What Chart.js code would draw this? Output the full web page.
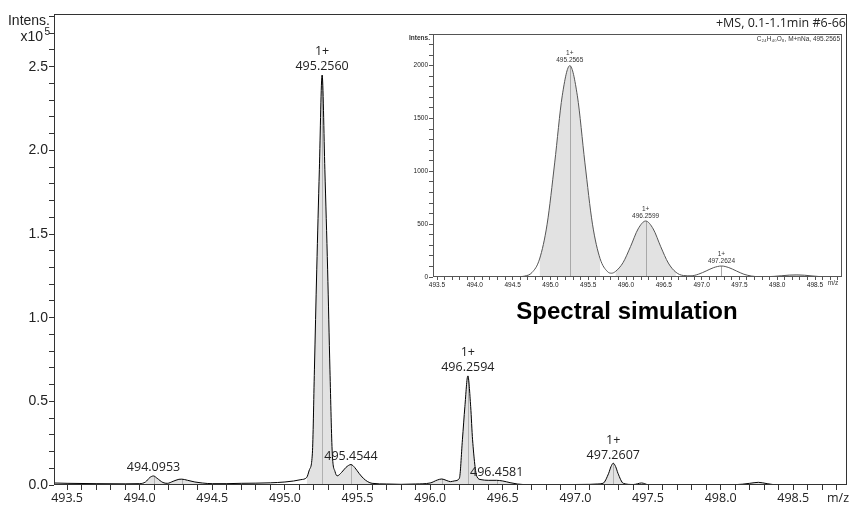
<!DOCTYPE html>
<html>
<head>
<meta charset="utf-8">
<script src="https://cdn.jsdelivr.net/npm/chart.js@4.4.1/dist/chart.umd.min.js"></script>
<style>
    html, body { margin: 0; padding: 0; background: #fff; }
    #wrap { position: relative; width: 850px; height: 505px; overflow: hidden; }
    #main { position: absolute; left: 0; top: 0; }
    #inset { position: absolute; left: 390px; top: 28px; }
    #sim { position: absolute; left: 500px; top: 297px; width: 254px; text-align: center;
           font: bold 24px "Liberation Sans", Arial, sans-serif; color: #000; }
</style>
</head>
<body>
<div id="wrap">
    <canvas id="main" width="850" height="505"></canvas>
    <canvas id="inset" width="457" height="272"></canvas>
    <div id="sim">Spectral simulation</div>
</div>
<script>
// Measured spectrum: m/z and intensity (x10^5)
const mainMz = [
    493.41, 493.50, 493.70, 493.90, 494.00, 494.04, 494.07, 494.095, 494.12, 494.16,
    494.19, 494.23, 494.27, 494.29, 494.33, 494.38, 494.43, 494.50, 494.60, 494.70,
    494.80, 494.90, 495.00, 495.06, 495.11, 495.15, 495.168, 495.189, 495.203, 495.219,
    495.237, 495.256, 495.275, 495.294, 495.310, 495.326, 495.345, 495.360, 495.390, 495.420,
    495.455, 495.480, 495.510, 495.540, 495.570, 495.600, 495.70, 495.80, 495.90, 496.00,
    496.05, 496.08, 496.11, 496.14, 496.17, 496.201, 496.222, 496.239, 496.2594, 496.279,
    496.292, 496.322, 496.35, 496.40, 496.458, 496.50, 496.55, 496.60, 496.65, 496.70,
    496.80, 496.90, 497.00, 497.10, 497.15, 497.19, 497.229, 497.245, 497.2607, 497.277,
    497.293, 497.33, 497.40, 497.456, 497.50, 497.60, 497.80, 498.00, 498.10, 498.20,
    498.26, 498.32, 498.40, 498.60, 498.87
];
const mainIntens = [
    0.012, 0.010, 0.008, 0.007, 0.008, 0.018, 0.045, 0.054, 0.040, 0.015,
    0.010, 0.022, 0.034, 0.035, 0.028, 0.018, 0.012, 0.008, 0.008, 0.010,
    0.011, 0.013, 0.018, 0.024, 0.032, 0.045, 0.090, 0.190, 0.688, 1.286,
    1.884, 2.450, 1.884, 1.286, 0.688, 0.190, 0.080, 0.055, 0.075, 0.105,
    0.122, 0.105, 0.070, 0.040, 0.020, 0.010, 0.006, 0.004, 0.006, 0.012,
    0.030, 0.036, 0.028, 0.020, 0.025, 0.040, 0.270, 0.468, 0.652, 0.468,
    0.270, 0.050, 0.032, 0.028, 0.028, 0.024, 0.014, 0.006, 0.002, 0.000,
    0.003, 0.000, 0.003, 0.004, 0.006, 0.010, 0.070, 0.110, 0.130, 0.110,
    0.070, 0.010, 0.003, 0.012, 0.002, 0.000, 0.000, 0.003, 0.002, 0.010,
    0.016, 0.008, 0.000, 0.000, 0.000
];
const mainShade = [[494.03, 494.44], [495.15, 495.61], [495.99, 496.62], [497.18, 497.35], [498.19, 498.33]];
const mainStickMz = [494.0953, 494.29, 495.256, 495.455, 496.08, 496.2594, 496.458, 497.2607];
const mainStickVal = [0.054, 0.035, 2.45, 0.122, 0.036, 0.652, 0.028, 0.13];
const mainLabelMz = [494.0953, 495.256, 495.4544, 496.2594, 496.4581, 497.2607];
const mainLabelTop = [0.054, 2.45, 0.122, 0.652, 0.028, 0.13];
const mainLabelText = ['494.0953', '495.2560', '495.4544', '496.2594', '496.4581', '497.2607'];
const mainLabelCharge = ['', '1+', '', '1+', '', '1+'];
const mainXMajor = [493.5, 494.0, 494.5, 495.0, 495.5, 496.0, 496.5, 497.0, 497.5, 498.0, 498.5];
const mainYMajor = [0.0, 0.5, 1.0, 1.5, 2.0, 2.5];

// Simulated isotope pattern (inset): m/z and intensity
const simMz = [
    493.45, 494.40, 494.5565, 494.6565, 494.7565, 494.8565, 494.9565, 495.0565, 495.1565, 495.2565,
    495.3565, 495.4565, 495.5565, 495.6565, 495.7565, 495.81, 495.8599, 495.9599, 496.0599, 496.1599,
    496.2599, 496.3599, 496.4599, 496.5599, 496.6599, 496.7599, 496.86, 496.96, 497.06, 497.16,
    497.2624, 497.36, 497.46, 497.56, 497.66, 497.76, 497.86, 497.96, 498.06, 498.16,
    498.26, 498.36, 498.46, 498.56, 498.66, 498.85
];
const simIntens = [
    0, 0, 1, 8, 42, 170, 500, 1080, 1715, 2000,
    1715, 1080, 500, 175, 50, 36, 52, 135, 288, 455,
    530, 455, 286, 132, 45, 14, 11, 27, 57, 89,
    104, 89, 57, 26, 9, 3, 3, 6, 12, 18,
    20, 17, 10, 4, 1, 0
];
const simShade = [[494.85, 495.66], [495.85, 496.67], [497.95, 498.57]];
const simStickMz = [495.2565, 496.2599, 497.2624];
const simStickVal = [2000, 530, 104];
const simLabelMz = [495.2565, 496.2599, 497.2624];
const simLabelTop = [2000, 530, 104];
const simLabelText = ['495.2565', '496.2599', '497.2624'];
const simXMajor = [493.5, 494.0, 494.5, 495.0, 495.5, 496.0, 496.5, 497.0, 497.5, 498.0, 498.5];
const simYMajor = [0, 500, 1000, 1500, 2000];

const SANS = '"Liberation Sans", Arial, sans-serif';
const OPEN = '"Open Sans", "Noto Sans", sans-serif';

function points(mz, val) {
    return mz.map((m, i) => ({ x: m, y: val[i] }));
}

// only the points inside the shaded ranges, with gaps between ranges
function shadePoints(mz, val, ranges) {
    const out = [];
    ranges.forEach((r, k) => {
        if (k > 0) out.push({ x: (ranges[k - 1][1] + r[0]) / 2, y: null });
        mz.forEach((m, i) => { if (m >= r[0] && m <= r[1]) out.push({ x: m, y: val[i] }); });
    });
    return out;
}

function stepTicks(from, to, step, dec) {
    const out = [];
    for (let v = from; v <= to + step / 2; v += step) out.push(+v.toFixed(dec));
    return out;
}

function isMajor(v, list) {
    return list.some(m => Math.abs(m - v) < 1e-6);
}

function drawSticks(chart, mz, val, color) {
    const ctx = chart.ctx, x = chart.scales.x, y = chart.scales.y;
    ctx.save();
    ctx.strokeStyle = color;
    ctx.lineWidth = 1;
    mz.forEach((m, i) => {
        const px = Math.round(x.getPixelForValue(m)) + 0.5;
        ctx.beginPath();
        ctx.moveTo(px, y.getPixelForValue(0));
        ctx.lineTo(px, y.getPixelForValue(val[i]));
        ctx.stroke();
    });
    ctx.restore();
}

function drawBox(chart, color) {
    const ctx = chart.ctx, a = chart.chartArea;
    ctx.save();
    ctx.strokeStyle = color;
    ctx.lineWidth = 1;
    ctx.strokeRect(Math.round(a.left) + 0.5, Math.round(a.top) + 0.5,
        Math.round(a.right - a.left) - 1, Math.round(a.bottom - a.top) - 1);
    ctx.restore();
}

const mainDecor = {
    id: 'mainDecor',
    afterDatasetDraw(chart, args) {
        if (args.index === 1) drawSticks(chart, mainStickMz, mainStickVal, '#b0b0b0');
    },
    afterDraw(chart) {
        const ctx = chart.ctx, x = chart.scales.x, y = chart.scales.y;
        drawBox(chart, '#333');
        ctx.save();
        ctx.fillStyle = '#222';
        ctx.textAlign = 'center';
        ctx.textBaseline = 'bottom';
        ctx.font = '12.5px ' + OPEN;
        mainLabelMz.forEach((m, i) => {
            const px = x.getPixelForValue(m);
            const py = y.getPixelForValue(mainLabelTop[i]) - 2;
            ctx.fillText(mainLabelText[i], px, py);
            if (mainLabelCharge[i]) ctx.fillText(mainLabelCharge[i], px, py - 15);
        });
        ctx.textBaseline = 'middle';
        ctx.textAlign = 'right';
        ctx.fillText('+MS, 0.1-1.1min #6-66', 846, 23);
        ctx.textAlign = 'center';
        ctx.fillText('m/z', 838, 498);
        ctx.textAlign = 'right';
        ctx.font = '14px ' + SANS;
        ctx.fillText('Intens.', 50, 21);
        ctx.fillText('x10', 43, 37);
        ctx.font = '10px ' + SANS;
        ctx.fillText('5', 50, 32);
        ctx.restore();
    }
};

const insetDecor = {
    id: 'insetDecor',
    afterDatasetDraw(chart, args) {
        if (args.index === 1) drawSticks(chart, simStickMz, simStickVal, '#a8a8a8');
    },
    afterDraw(chart) {
        const ctx = chart.ctx, x = chart.scales.x, y = chart.scales.y;
        drawBox(chart, '#555');
        ctx.save();
        ctx.fillStyle = '#333';
        ctx.textAlign = 'center';
        ctx.textBaseline = 'bottom';
        ctx.font = '6.5px ' + SANS;
        simLabelMz.forEach((m, i) => {
            const px = x.getPixelForValue(m);
            const py = y.getPixelForValue(simLabelTop[i]) - 2;
            ctx.fillText(simLabelText[i], px, py);
            ctx.fillText('1+', px, py - 7);
        });
        ctx.textBaseline = 'middle';
        ctx.textAlign = 'right';
        ctx.fillText('C\u2082\u2084H\u2084\u2080O\u2088, M+nNa, 495.2565', 450, 11);
        ctx.font = 'bold 6.5px ' + SANS;
        ctx.fillText('Intens.', 40, 10);
        ctx.font = '6.5px ' + SANS;
        ctx.textAlign = 'center';
        ctx.fillText('m/z', 443, 255);
        ctx.restore();
    }
};

function axisX(min, max, ticks, major, fontSize, family, tickLen, height, color) {
    return {
        type: 'linear', min: min, max: max,
        afterBuildTicks: s => { s.ticks = ticks.map(v => ({ value: v })); },
        afterFit: s => { s.height = height; },
        grid: { drawOnChartArea: false, tickLength: tickLen, color: color },
        border: { display: false },
        ticks: {
            autoSkip: false, maxRotation: 0, padding: 1, color: '#222',
            font: { family: family, size: fontSize },
            callback: v => isMajor(v, major) ? v.toFixed(1) : ''
        }
    };
}

function axisY(min, max, ticks, major, fontSize, family, tickLen, width, color, fmt) {
    return {
        min: min, max: max,
        afterBuildTicks: s => { s.ticks = ticks.map(v => ({ value: v })); },
        afterFit: s => { s.width = width; },
        grid: { drawOnChartArea: false, tickLength: tickLen, color: color },
        border: { display: false },
        ticks: {
            autoSkip: false, padding: 1, color: '#222',
            font: { family: family, size: fontSize },
            callback: v => isMajor(v, major) ? fmt(v) : ''
        }
    };
}

new Chart(document.getElementById('main'), {
    type: 'line',
    data: {
        datasets: [
            {
                data: points(mainMz, mainIntens),
                borderColor: '#000', borderWidth: 1, fill: false,
                cubicInterpolationMode: 'monotone', pointRadius: 0
            },
            {
                data: shadePoints(mainMz, mainIntens, mainShade),
                borderColor: 'rgba(0,0,0,0)', borderWidth: 0,
                backgroundColor: '#e2e2e2', fill: 'origin', spanGaps: false,
                cubicInterpolationMode: 'monotone', pointRadius: 0
            }
        ]
    },
    options: {
        responsive: false, animation: false, devicePixelRatio: 1,
        parsing: false, normalized: true,
        layout: { padding: { top: 14, right: 3, left: 0, bottom: 0 } },
        plugins: { legend: { display: false }, tooltip: { enabled: false } },
        scales: {
            x: axisX(493.41, 498.87, stepTicks(493.5, 498.8, 0.1, 1), mainXMajor, 12.5, OPEN, 5, 20, '#333'),
            y: axisY(0, 2.815, stepTicks(0, 2.8, 0.1, 1), mainYMajor, 14, SANS, 5, 54, '#333', v => v.toFixed(1))
        }
    },
    plugins: [mainDecor]
});

new Chart(document.getElementById('inset'), {
    type: 'line',
    data: {
        datasets: [
            {
                data: points(simMz, simIntens),
                borderColor: '#555', borderWidth: 1, fill: false,
                cubicInterpolationMode: 'monotone', pointRadius: 0
            },
            {
                data: shadePoints(simMz, simIntens, simShade),
                borderColor: 'rgba(0,0,0,0)', borderWidth: 0,
                backgroundColor: '#e2e2e2', fill: 'origin', spanGaps: false,
                cubicInterpolationMode: 'monotone', pointRadius: 0
            }
        ]
    },
    options: {
        responsive: false, animation: false, devicePixelRatio: 1,
        parsing: false, normalized: true,
        layout: { padding: { top: 6, right: 5, left: 0, bottom: 0 } },
        plugins: { legend: { display: false }, tooltip: { enabled: false } },
        scales: {
            x: axisX(493.447, 498.857, stepTicks(493.5, 498.8, 0.1, 1), simXMajor, 6.5, SANS, 3, 23, '#555'),
            y: axisY(0, 2300, stepTicks(0, 2300, 100, 0), simYMajor, 6.5, SANS, 4, 43, '#555', v => String(v))
        }
    },
    plugins: [insetDecor]
});
</script>
</body>
</html>
